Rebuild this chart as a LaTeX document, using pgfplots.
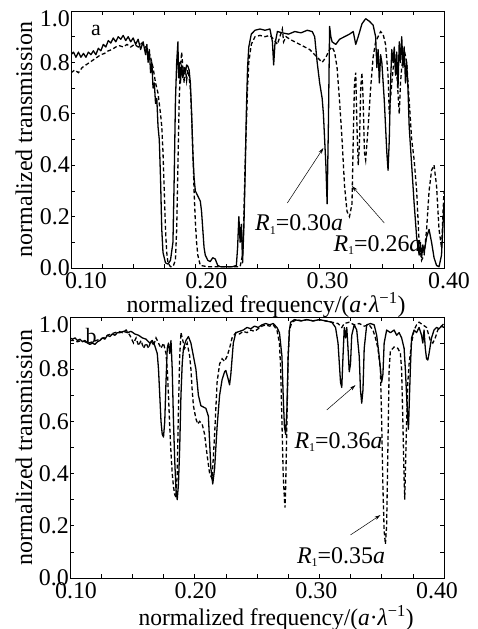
\documentclass[border=0pt]{standalone}
\usepackage{fontspec}
\setmainfont{Liberation Serif}
\usepackage{graphicx}
\usepackage{pgfplots}
\pgfplotsset{compat=1.18}
\usetikzlibrary{arrows.meta}

\pgfplotsset{
  panel/.style={
    scale only axis,
    xmin=0.1, xmax=0.4, ymin=0, ymax=1,
    xtick={0.1,0.2,0.3,0.4},
    minor xtick={0.125,0.15,0.175,0.225,0.25,0.275,0.325,0.35,0.375},
    ytick={0,0.2,0.4,0.6,0.8},
    yticklabels={0.0,0.2,0.4,0.6,0.8},
    minor ytick={0.1,0.3,0.5,0.7,0.9},
    extra y ticks={1},
    extra y tick labels={1.0},
    extra y tick style={yticklabel style={yshift=-8bp}},
    tick align=inside,
    major tick length=4bp, minor tick length=4bp,
    tick style={black, line width=0.6bp},
    axis line style={line width=0.8bp},
    tick label style={font=\fontsize{24}{24}\selectfont},
    xticklabel style={inner sep=0pt, yshift=-4bp},
    yticklabel style={inner sep=0pt, xshift=-1bp},
    label style={font=\fontsize{24}{24}\selectfont},
    ylabel={\resizebox{235bp}{\height}{normalized transmission}},
  },
}
\tikzset{
  solidline/.style={black, line width=1.3bp, line join=round},
  dashline/.style={black, line width=1.3bp, dash pattern=on 4bp off 2.5bp},
  note/.style={anchor=base west, inner sep=0pt, font=\fontsize{24}{24}\selectfont},
  arr/.style={-{Stealth[length=6bp,width=3.5bp]}, line width=0.5bp},
}
\newcommand{\Rone}{\textit{R}\raisebox{-0.35ex}{\fontsize{12}{12}\selectfont 1}}
\newcommand{\freqlabel}[1]{\resizebox{#1}{\height}{normalized frequency/(\textit{a}·\textit{λ}\textsuperscript{−1})}}

\begin{document}
\begin{tikzpicture}
\path[use as bounding box] (0,0) rectangle (478bp,629bp);

% panel a
\begin{axis}[panel,
  at={(71bp,361bp)}, anchor=south west,
  width=373bp, height=257bp,
  xticklabels={\hspace*{30bp}0.10,\hspace*{22bp}0.20,\hspace*{16bp}0.30,\hspace*{10bp}0.40},
  xlabel={\freqlabel{279bp}},
  ylabel style={at={(axis description cs:-0.126,0.5)}, anchor=center, inner sep=0pt},
  xlabel style={at={(axis description cs:0.523,0)}, anchor=north, yshift=-24bp, inner sep=0pt},
]
\addplot[solidline] coordinates {
(0.100,0.83) (0.102,0.84) (0.104,0.82) (0.106,0.84) (0.108,0.82) (0.110,0.835) (0.112,0.82)
(0.114,0.84) (0.116,0.83) (0.118,0.845) (0.120,0.83) (0.122,0.855) (0.124,0.845) (0.126,0.87)
(0.128,0.86) (0.130,0.885) (0.132,0.875) (0.134,0.895) (0.136,0.88) (0.138,0.90) (0.140,0.89)
(0.142,0.905) (0.144,0.885) (0.146,0.90) (0.148,0.88) (0.150,0.895) (0.152,0.87) (0.154,0.89)
(0.156,0.85) (0.158,0.88) (0.160,0.83) (0.161,0.87) (0.162,0.80) (0.163,0.85) (0.164,0.76)
(0.165,0.80) (0.166,0.70) (0.167,0.72) (0.168,0.64) (0.169,0.66) (0.170,0.55) (0.171,0.50)
(0.172,0.35) (0.173,0.15) (0.174,0.06) (0.176,0.02) (0.178,0.015) (0.180,0.03) (0.182,0.10)
(0.183,0.35) (0.184,0.65) (0.185,0.80) (0.186,0.88) (0.1865,0.74) (0.187,0.80) (0.188,0.72)
(0.189,0.79) (0.190,0.74) (0.191,0.78) (0.192,0.76) (0.193,0.79) (0.194,0.785) (0.195,0.77)
(0.196,0.72) (0.197,0.60) (0.198,0.45) (0.199,0.35) (0.200,0.30) (0.202,0.28) (0.204,0.26)
(0.205,0.22) (0.206,0.15) (0.207,0.08) (0.208,0.05) (0.210,0.03) (0.212,0.025) (0.214,0.04)
(0.216,0.035) (0.218,0.01) (0.220,0.005) (0.225,0.005) (0.230,0.005) (0.233,0.01) (0.234,0.08)
(0.235,0.20) (0.236,0.10) (0.237,0.17) (0.238,0.02) (0.239,0.15) (0.240,0.35) (0.241,0.60)
(0.242,0.78) (0.243,0.86) (0.245,0.91) (0.248,0.925) (0.252,0.93) (0.256,0.925) (0.260,0.93)
(0.262,0.88) (0.263,0.79) (0.264,0.87) (0.266,0.92) (0.270,0.915) (0.275,0.91) (0.280,0.92)
(0.285,0.915) (0.290,0.925) (0.294,0.92) (0.296,0.90) (0.298,0.80) (0.300,0.72) (0.302,0.66)
(0.303,0.60) (0.304,0.50) (0.305,0.40) (0.306,0.25) (0.307,0.55) (0.308,0.94) (0.309,0.90)
(0.310,0.88) (0.313,0.87) (0.316,0.89) (0.320,0.90) (0.324,0.91) (0.327,0.92) (0.329,0.87)
(0.331,0.90) (0.334,0.95) (0.337,0.97) (0.340,0.96) (0.343,0.945) (0.345,0.90) (0.346,0.78)
(0.347,0.85) (0.348,0.72) (0.349,0.83) (0.350,0.80) (0.352,0.65) (0.354,0.45) (0.355,0.38)
(0.356,0.50) (0.357,0.72) (0.358,0.85) (0.359,0.80) (0.360,0.86) (0.361,0.75) (0.362,0.84)
(0.363,0.70) (0.364,0.88) (0.365,0.80) (0.366,0.90) (0.367,0.78) (0.368,0.86) (0.369,0.72)
(0.370,0.80) (0.371,0.70) (0.372,0.55) (0.374,0.40) (0.376,0.25) (0.378,0.12) (0.380,0.05)
(0.381,0.10) (0.382,0.04) (0.383,0.09) (0.384,0.06) (0.386,0.12) (0.388,0.15) (0.390,0.10)
(0.392,0.04) (0.394,0.01) (0.396,0.005) (0.398,0.05) (0.400,0.25)
};
\addplot[dashline] coordinates {
(0.100,0.76) (0.103,0.77) (0.106,0.76) (0.109,0.78) (0.112,0.79) (0.115,0.80) (0.118,0.81)
(0.121,0.82) (0.124,0.83) (0.127,0.835) (0.130,0.845) (0.133,0.85) (0.136,0.86) (0.139,0.865)
(0.142,0.86) (0.145,0.87) (0.148,0.86) (0.151,0.87) (0.154,0.86) (0.157,0.875) (0.160,0.86)
(0.162,0.85) (0.164,0.82) (0.166,0.78) (0.168,0.72) (0.170,0.68) (0.172,0.60) (0.173,0.55)
(0.174,0.45) (0.175,0.30) (0.176,0.15) (0.177,0.06) (0.178,0.02) (0.180,0.005) (0.182,0.005)
(0.184,0.03) (0.185,0.15) (0.186,0.40) (0.187,0.65) (0.188,0.78) (0.189,0.84) (0.190,0.78)
(0.191,0.72) (0.192,0.78) (0.193,0.73) (0.194,0.77) (0.195,0.74) (0.196,0.70) (0.197,0.60)
(0.198,0.45) (0.199,0.30) (0.200,0.18) (0.201,0.10) (0.202,0.05) (0.204,0.01) (0.210,0.005)
(0.220,0.005) (0.230,0.005) (0.236,0.005) (0.238,0.05) (0.239,0.20) (0.240,0.40) (0.241,0.55)
(0.242,0.70) (0.243,0.80) (0.245,0.87) (0.248,0.90) (0.252,0.905) (0.256,0.90) (0.260,0.905)
(0.263,0.89) (0.266,0.87) (0.268,0.90) (0.270,0.93) (0.271,0.88) (0.273,0.90) (0.276,0.89)
(0.280,0.88) (0.284,0.87) (0.288,0.86) (0.292,0.85) (0.296,0.83) (0.300,0.81) (0.302,0.80)
(0.305,0.82) (0.308,0.85) (0.310,0.86) (0.312,0.84) (0.314,0.78) (0.316,0.65) (0.318,0.50)
(0.320,0.32) (0.322,0.22) (0.324,0.20) (0.326,0.25) (0.327,0.50) (0.328,0.72) (0.329,0.76)
(0.330,0.55) (0.331,0.40) (0.332,0.48) (0.333,0.70) (0.334,0.76) (0.335,0.65) (0.336,0.45)
(0.337,0.42) (0.339,0.55) (0.341,0.70) (0.343,0.82) (0.345,0.88) (0.347,0.90) (0.349,0.92)
(0.351,0.91) (0.353,0.87) (0.355,0.75) (0.356,0.60) (0.358,0.72) (0.360,0.82) (0.362,0.76)
(0.364,0.60) (0.365,0.72) (0.366,0.78) (0.368,0.85) (0.370,0.80) (0.372,0.65) (0.374,0.50)
(0.376,0.42) (0.378,0.30) (0.380,0.10) (0.382,0.03) (0.384,0.05) (0.386,0.15) (0.388,0.30)
(0.390,0.38) (0.392,0.40) (0.394,0.32) (0.396,0.15) (0.398,0.08) (0.400,0.30)
};
\node[font=\fontsize{22}{22}\selectfont] at (axis cs:0.120,0.926) {a};
\draw[arr] (axis cs:0.274,0.253) -- (axis cs:0.303,0.467);
\node[note] at (axis cs:0.248,0.144) {\Rone=0.30\textit{a}};
\draw[arr] (axis cs:0.352,0.175) -- (axis cs:0.326,0.319);
\node[note] at (axis cs:0.311,0.066) {\Rone=0.26\textit{a}};
\end{axis}

% panel b
\begin{axis}[panel,
  at={(70bp,51bp)}, anchor=south west,
  width=374bp, height=261bp,
  xticklabels={\hspace*{12bp}0.10,\hspace*{2bp}0.20,0.30\hspace*{6bp},0.40\hspace*{14bp}},
  xlabel={\freqlabel{275bp}},
  ylabel style={at={(axis description cs:-0.123,0.5)}, anchor=center, inner sep=0pt},
  xlabel style={at={(axis description cs:0.551,0)}, anchor=north, yshift=-27bp, inner sep=0pt},
]
\addplot[solidline] coordinates {
(0.100,0.92) (0.102,0.915) (0.104,0.92) (0.106,0.91) (0.108,0.915) (0.110,0.905) (0.112,0.91)
(0.114,0.90) (0.116,0.895) (0.118,0.90) (0.120,0.895) (0.122,0.905) (0.124,0.91) (0.126,0.92)
(0.128,0.915) (0.130,0.93) (0.132,0.925) (0.134,0.935) (0.136,0.93) (0.138,0.94) (0.140,0.94)
(0.143,0.945) (0.146,0.94) (0.149,0.945) (0.152,0.935) (0.155,0.93) (0.158,0.92) (0.161,0.915)
(0.164,0.90) (0.166,0.91) (0.168,0.89) (0.170,0.86) (0.171,0.80) (0.172,0.70) (0.173,0.60)
(0.174,0.55) (0.175,0.54) (0.176,0.60) (0.177,0.75) (0.178,0.88) (0.179,0.90) (0.180,0.86)
(0.181,0.91) (0.182,0.80) (0.183,0.60) (0.184,0.45) (0.185,0.34) (0.186,0.30) (0.187,0.36)
(0.188,0.50) (0.189,0.70) (0.190,0.82) (0.191,0.88) (0.193,0.91) (0.195,0.925) (0.197,0.90)
(0.199,0.85) (0.201,0.80) (0.203,0.70) (0.205,0.66) (0.207,0.655) (0.209,0.65) (0.211,0.62)
(0.212,0.52) (0.213,0.42) (0.2145,0.36) (0.216,0.42) (0.218,0.58) (0.220,0.70) (0.222,0.76)
(0.224,0.79) (0.225,0.795) (0.227,0.76) (0.228,0.74) (0.229,0.78) (0.231,0.90) (0.233,0.94)
(0.236,0.945) (0.239,0.95) (0.242,0.96) (0.245,0.955) (0.248,0.965) (0.251,0.96) (0.254,0.97)
(0.257,0.975) (0.260,0.97) (0.263,0.975) (0.266,0.96) (0.268,0.94) (0.270,0.85) (0.271,0.70)
(0.272,0.58) (0.273,0.55) (0.274,0.65) (0.275,0.85) (0.276,0.95) (0.277,0.98) (0.280,0.99)
(0.285,0.985) (0.290,0.99) (0.295,0.985) (0.300,0.99) (0.305,0.985) (0.310,0.98) (0.313,0.96)
(0.315,0.90) (0.317,0.75) (0.318,0.73) (0.319,0.85) (0.320,0.96) (0.321,0.92) (0.322,0.96)
(0.323,0.88) (0.324,0.79) (0.325,0.82) (0.326,0.93) (0.328,0.97) (0.330,0.95) (0.332,0.85)
(0.333,0.72) (0.334,0.67) (0.335,0.72) (0.336,0.88) (0.338,0.97) (0.341,0.975) (0.344,0.97)
(0.346,0.93) (0.348,0.85) (0.350,0.75) (0.351,0.78) (0.352,0.90) (0.354,0.95) (0.357,0.94)
(0.360,0.95) (0.362,0.93) (0.364,0.94) (0.366,0.92) (0.368,0.88) (0.369,0.80) (0.370,0.70)
(0.371,0.60) (0.3715,0.57) (0.372,0.65) (0.373,0.80) (0.374,0.92) (0.376,0.95) (0.378,0.94)
(0.380,0.96) (0.382,0.93) (0.383,0.90) (0.384,0.95) (0.385,0.88) (0.386,0.84) (0.387,0.835)
(0.388,0.86) (0.390,0.92) (0.392,0.95) (0.394,0.96) (0.396,0.955) (0.398,0.965) (0.400,0.96)
};
\addplot[dashline] coordinates {
(0.100,0.91) (0.103,0.91) (0.106,0.905) (0.109,0.91) (0.112,0.905) (0.115,0.90) (0.118,0.905)
(0.121,0.91) (0.124,0.915) (0.127,0.92) (0.130,0.93) (0.133,0.935) (0.136,0.94) (0.139,0.945)
(0.142,0.94) (0.145,0.95) (0.148,0.93) (0.151,0.90) (0.153,0.92) (0.155,0.89) (0.157,0.91)
(0.159,0.88) (0.161,0.90) (0.163,0.88) (0.165,0.91) (0.167,0.89) (0.169,0.92) (0.171,0.90)
(0.173,0.88) (0.175,0.90) (0.177,0.86) (0.178,0.80) (0.179,0.70) (0.180,0.58) (0.181,0.48)
(0.182,0.40) (0.183,0.35) (0.184,0.32) (0.185,0.31) (0.186,0.40) (0.187,0.65) (0.188,0.85)
(0.189,0.94) (0.190,0.92) (0.192,0.88) (0.194,0.90) (0.196,0.85) (0.197,0.80) (0.198,0.72)
(0.199,0.66) (0.201,0.61) (0.2025,0.59) (0.204,0.60) (0.206,0.59) (0.208,0.55) (0.210,0.47)
(0.212,0.40) (0.214,0.38) (0.216,0.55) (0.218,0.75) (0.220,0.82) (0.222,0.84) (0.224,0.83)
(0.226,0.85) (0.228,0.88) (0.230,0.92) (0.233,0.94) (0.236,0.935) (0.239,0.945) (0.242,0.94)
(0.245,0.95) (0.248,0.945) (0.251,0.955) (0.254,0.965) (0.257,0.97) (0.260,0.965) (0.263,0.97)
(0.266,0.95) (0.268,0.90) (0.269,0.80) (0.270,0.60) (0.271,0.40) (0.272,0.30) (0.2725,0.27)
(0.273,0.35) (0.274,0.60) (0.275,0.85) (0.276,0.95) (0.278,0.98) (0.282,0.99) (0.286,0.985)
(0.290,0.99) (0.295,0.985) (0.300,0.99) (0.305,0.985) (0.310,0.98) (0.315,0.975) (0.318,0.96)
(0.320,0.975) (0.324,0.98) (0.328,0.97) (0.332,0.975) (0.336,0.965) (0.340,0.97) (0.343,0.95)
(0.345,0.92) (0.347,0.88) (0.349,0.80) (0.350,0.60) (0.351,0.35) (0.352,0.18) (0.353,0.13)
(0.354,0.20) (0.355,0.50) (0.356,0.80) (0.357,0.87) (0.360,0.885) (0.363,0.88) (0.365,0.86)
(0.366,0.80) (0.367,0.60) (0.368,0.38) (0.3685,0.30) (0.369,0.40) (0.370,0.60) (0.371,0.75)
(0.372,0.82) (0.374,0.90) (0.376,0.95) (0.378,0.97) (0.380,0.98) (0.383,0.97) (0.386,0.96)
(0.389,0.91) (0.391,0.90) (0.393,0.92) (0.395,0.95) (0.397,0.96) (0.400,0.975)
};
\node[font=\fontsize{22}{22}\selectfont] at (axis cs:0.117,0.927) {b};
\draw[arr] (axis cs:0.306,0.644) -- (axis cs:0.329,0.739);
\node[note] at (axis cs:0.280,0.498) {\Rone=0.36\textit{a}};
\draw[arr] (axis cs:0.325,0.165) -- (axis cs:0.349,0.241);
\node[note] at (axis cs:0.282,0.057) {\Rone=0.35\textit{a}};
\end{axis}
\end{tikzpicture}
\end{document}
